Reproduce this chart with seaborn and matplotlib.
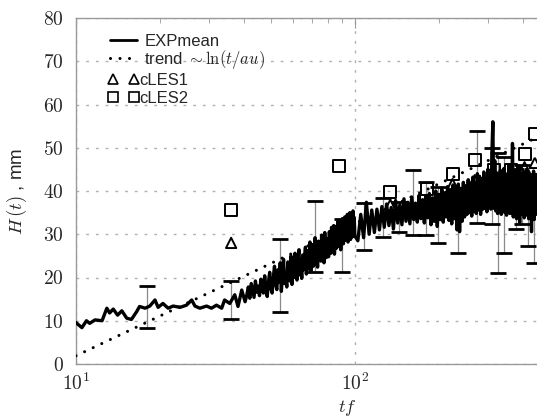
import numpy as np
import pandas as pd
import matplotlib
matplotlib.use('Agg')
import matplotlib.pyplot as plt
import seaborn as sns
from matplotlib.ticker import FixedLocator, FuncFormatter, LogLocator, NullFormatter
from matplotlib.lines import Line2D

# ---------------- data ----------------
# EXPmean, early part (irregular times)
exp_t_a = [9.9, 10.5, 10.9, 11.2, 11.7, 12.4, 12.9, 13.2, 13.6, 14.1, 14.6, 15.2, 15.8,
           16.5, 16.9, 17.7, 18.4, 19.2, 19.7, 20.5, 21.4, 22.3, 23.6, 24.9, 26.0, 26.7,
           27.8, 29.4, 30.6, 31.9, 33.3, 34.1, 35.6, 37.1, 38.1, 39.3, 40.4]
exp_H_a = [9.8, 8.4, 10.0, 9.4, 10.2, 10.0, 12.9, 11.8, 12.7, 11.3, 12.3, 10.6, 10.3,
           12.1, 13.3, 12.9, 13.4, 14.8, 13.1, 14.0, 12.9, 13.4, 13.1, 13.6, 14.8, 13.4,
           12.9, 13.4, 12.9, 13.6, 12.9, 14.8, 14.0, 16.0, 13.3, 17.1, 14.4]
# EXPmean, t = 41 ... 100 (step 0.5)
exp_t_b = list(np.arange(41, 100.01, 0.5))
exp_H_b = [16.0, 17.8, 15.2, 18.6, 17.0, 15.4, 19.2, 16.6, 18.0,
           15.8, 19.6, 18.2, 16.4, 20.4, 17.0, 15.6, 19.0, 21.2, 17.4,
           16.4, 20.0, 22.6, 18.4, 17.2, 21.8, 19.0, 23.4, 16.8, 20.6,
           24.2, 18.6, 20.2, 17.8, 23.6, 21.4, 19.2, 25.0, 18.4, 22.2,
           20.0, 25.6, 21.2, 19.4, 24.0, 26.4, 20.6, 22.8, 19.8, 25.2,
           21.8, 24.6, 27.0, 20.8, 23.2, 26.2, 22.0, 28.2, 21.4, 24.8,
           27.6, 22.6, 25.4, 29.2, 23.0, 26.6, 22.4, 28.4, 24.4, 27.2,
           23.8, 29.8, 25.2, 27.8, 23.4, 30.4, 26.2, 24.6, 29.0, 26.8,
           24.8, 30.6, 27.6, 25.6, 31.6, 28.4, 26.2, 32.0, 25.4, 29.4,
           31.8, 26.8, 28.8, 33.0, 27.2, 30.2, 32.6, 26.4, 31.2, 28.6,
           33.4, 27.8, 30.6, 34.0, 28.6, 31.8, 29.2, 34.6, 28.2, 32.4,
           30.0, 35.0, 28.8, 33.2, 31.0, 29.4, 35.4, 30.4, 33.8, 29.6]
# EXPmean, t = 102.5 ... 450 (step 2.5)
exp_t_c = list(np.arange(102.5, 450.1, 2.5))
exp_H_c = [28.5, 34.6, 29.2, 37.4, 30.0, 35.6, 30.4, 35.8, 31.0, 36.4,
           31.6, 37.0, 32.0, 36.2, 31.2, 37.8, 32.6, 36.8, 32.2, 38.2,
           33.0, 37.4, 32.4, 38.6, 33.4, 37.2, 32.8, 39.0, 33.6, 38.0,
           32.6, 38.8, 33.8, 39.4, 32.2, 38.4, 33.0, 40.0, 31.8, 39.2,
           33.4, 40.4, 32.8, 39.6, 34.0, 41.0, 33.2, 40.2, 32.4, 41.4,
           33.6, 40.8, 31.0, 41.6, 30.6, 40.6, 33.0, 42.0, 34.0, 41.2,
           34.6, 42.6, 35.0, 41.8, 34.2, 43.2, 35.4, 42.0, 34.8, 44.0,
           35.6, 43.4, 34.6, 42.8, 35.8, 44.4, 36.0, 43.0, 35.2, 45.0,
           36.2, 44.6, 35.8, 48.6, 56.0, 36.0, 47.0, 35.4, 44.2, 34.8,
           43.6, 35.2, 44.8, 34.6, 42.8, 36.0, 45.2, 35.0, 43.8, 34.4,
           44.0, 35.6, 46.0, 34.8, 45.0, 35.2, 51.0, 34.0, 43.2, 35.6,
           44.6, 33.6, 43.0, 35.0, 45.8, 32.6, 44.2, 34.6, 42.8, 35.4,
           44.4, 33.8, 43.6, 35.2, 45.0, 34.4, 42.6, 33.6, 44.0, 34.8,
           43.2, 30.6, 42.0, 34.2, 44.6, 33.4, 42.4, 35.0, 43.8, 34.6]

# trend ~ ln(t/au): straight on the log axis, end points
trend_t = [10, 450]
trend_H = [1.9, 52.4]

# cLES1 (triangles), cLES2 (squares)
les1_t = [36, 90, 134, 181, 224, 269, 315, 362, 406, 442]
les1_H = [28.0, 32.6, 36.8, 37.5, 41.6, 42.5, 43.0, 40.0, 45.5, 46.5]
les2_t = [36, 88, 134, 181, 224, 269, 315, 362, 406, 442]
les2_H = [35.6, 45.8, 39.8, 40.4, 43.9, 47.2, 44.9, 44.9, 48.6, 53.2]

# experimental scatter (error bars): time, lower, upper
err_t = [18, 36, 54, 72, 90, 108, 126, 144, 161, 180, 198, 234, 274, 310, 326, 342, 378, 397, 417, 438]
err_lo = [8.3, 10.4, 12.0, 21.3, 21.3, 26.4, 29.4, 30.5, 29.8, 29.8, 28.0, 25.7, 32.7, 32.4, 21.0, 25.7, 31.2, 32.4, 27.3, 23.4]
err_hi = [18.0, 19.2, 28.9, 37.7, 33.5, 37.2, 38.4, 37.5, 44.9, 42.1, 41.0, 40.5, 53.9, 50.0, 48.8, 47.9, 45.0, 46.0, 44.0, 43.0]

ytick_vals = [0, 10, 20, 30, 40, 50, 60, 70, 80]

# ---------------- figure ----------------
sns.set_style('white')
plt.rcParams['font.family'] = ['Liberation Sans', 'DejaVu Sans']
plt.rcParams['mathtext.fontset'] = 'cm'

fig = plt.figure(figsize=(5.37, 4.17), dpi=100)
ax = fig.add_axes([76 / 537, 1 - 364 / 417, 1 - 76 / 537, (364 - 18) / 417])

exp_df = pd.DataFrame({'t': exp_t_a + exp_t_b + exp_t_c,
                       'H': exp_H_a + exp_H_b + exp_H_c})
sns.lineplot(data=exp_df, x='t', y='H', ax=ax, color='black', lw=2.4,
             sort=False, estimator=None, legend=False, zorder=3)

trend_df = pd.DataFrame({'t': trend_t, 'H': trend_H})
sns.lineplot(data=trend_df, x='t', y='H', ax=ax, color='black', lw=2.2,
             linestyle=(0, (0.01, 3.1)), dash_capstyle='round',
             sort=False, estimator=None, legend=False, zorder=4)

# error bars: grey stems, black caps
mid = [(a + b) / 2 for a, b in zip(err_lo, err_hi)]
half = [(b - a) / 2 for a, b in zip(err_lo, err_hi)]
eb = ax.errorbar(err_t, mid, yerr=[half, half],
                 fmt='none', ecolor='#8a8a8a', elinewidth=0.9,
                 capsize=5.5, capthick=2.0, zorder=2)
for cl in eb[1]:
    cl.set_color('black')
    cl.set_markeredgecolor('black')
    cl.set_markerfacecolor('black')

sns.scatterplot(x=les1_t, y=les1_H, ax=ax, marker='^', s=55, color='black',
                facecolor='none', edgecolor='black', linewidth=1.4, zorder=5, legend=False)
sns.scatterplot(x=les2_t, y=les2_H, ax=ax, marker='s', s=75, color='black',
                facecolor='none', edgecolor='black', linewidth=1.4, zorder=5, legend=False)

# axes
ax.set_xscale('log')
ax.set_xlim(10, 450)
ax.set_ylim(0, 80)
ax.yaxis.set_major_locator(FixedLocator(ytick_vals))
ax.yaxis.set_major_formatter(FuncFormatter(lambda v, p: r'$%d$' % v))
ax.xaxis.set_major_locator(LogLocator(base=10))
ax.xaxis.set_minor_locator(LogLocator(base=10, subs=np.arange(2, 10)))
ax.xaxis.set_major_formatter(FuncFormatter(lambda v, p: r'$10^{%d}$' % round(np.log10(v))))
ax.xaxis.set_minor_formatter(NullFormatter())

ax.grid(True, which='major', axis='both', color='#b0b0b0', lw=1.0,
        linestyle=(0, (2.0, 5.0)))
ax.set_axisbelow(True)
for side in ['left', 'bottom', 'top']:
    ax.spines[side].set_color('#9a9a9a')
    ax.spines[side].set_linewidth(1.0)
ax.spines['right'].set_visible(False)
ax.tick_params(axis='both', which='both', direction='in', color='#9a9a9a',
               top=True, right=False)
ax.tick_params(axis='y', which='major', length=7, pad=9, labelsize=14)
ax.tick_params(axis='x', which='major', length=7, pad=6, labelsize=14)
ax.tick_params(axis='x', which='minor', length=3.5)

ax.set_xlabel(r'$tf$', fontsize=13)
ax.xaxis.set_label_coords((347 - 76) / 461, -0.097)
ax.set_ylabel(r'$H\,(t)$ , mm', fontsize=13.5)
ax.yaxis.set_label_coords(-0.102, 0.5)

# legends
h1 = Line2D([], [], color='black', lw=2.0)
h2 = Line2D([], [], color='black', lw=2.2, linestyle=(0, (0.01, 3.1)), dash_capstyle='round')
h3 = Line2D([], [], ls='none', marker='^', mfc='none', mec='black', ms=6.5, mew=1.2)
h4 = Line2D([], [], ls='none', marker='s', mfc='none', mec='black', ms=7, mew=1.2)

leg1 = ax.legend([h1, h2], ['EXPmean', r'trend $\sim \ln(t/au)$'], loc='upper left',
                 bbox_to_anchor=((110 - 76) / 461, (364 - 34) / 346), frameon=False,
                 fontsize=12, handlelength=1.6, handletextpad=0.45, labelspacing=-0.05,
                 borderaxespad=0, borderpad=0)
ax.add_artist(leg1)
leg2 = ax.legend([h3, h4], ['cLES1', 'cLES2'], loc='upper left', numpoints=2,
                 bbox_to_anchor=((108 - 76) / 461, (364 - 73) / 346), frameon=False,
                 fontsize=12, handlelength=1.85, handletextpad=0.05, labelspacing=0.2,
                 borderaxespad=0, borderpad=0)

fig.savefig('out.png', dpi=100)
